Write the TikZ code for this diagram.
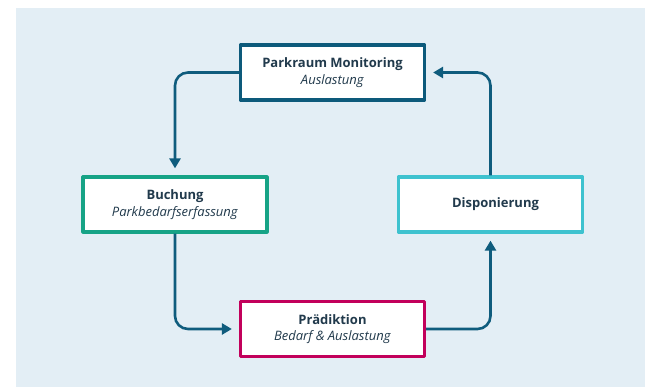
\documentclass[tikz,border=0pt]{standalone}
\usepackage{fontspec}
\setmainfont{Open Sans}
\usetikzlibrary{arrows.meta}

\definecolor{bgblau}{HTML}{E3EEF5}
\definecolor{pfeil}{HTML}{0F5C7D}
\definecolor{textgrau}{HTML}{213A4C}
\definecolor{monblau}{HTML}{0D5A7B}
\definecolor{buchgruen}{HTML}{16A386}
\definecolor{dispcyan}{HTML}{3EC2CF}
\definecolor{praedrot}{HTML}{C2005B}

\begin{document}
\begin{tikzpicture}[x=1pt, y=-1pt, line join=round,
  kasten/.style={draw, fill=white, line width=3.2pt, minimum width=184pt, minimum height=55pt,
    align=center, text=textgrau, font=\fontsize{13}{16.5}\selectfont},
  fluss/.style={draw=pfeil, line width=2.6pt, rounded corners=13pt,
    -{Triangle[length=10pt,width=11pt]}, shorten >=7pt}]

  %% ════ 背景 ════
  \fill[bgblau] (16,8) rectangle (650,387);

  %% ════ 四个框 ════
  \node[kasten, draw=monblau] (monitoring) at (332.5,72.5) {\textbf{Parkraum Monitoring}\\\textit{Auslastung}};
  \node[kasten, draw=buchgruen] (buchung) at (175,204.5) {\textbf{Buchung}\\\textit{Parkbedarfserfassung}};
  \node[kasten, draw=dispcyan] (disponierung) at (490.5,204.5) {\hspace*{10pt}\textbf{Disponierung}};
  \node[kasten, draw=praedrot] (praediktion) at (332.5,329) {\textbf{Prädiktion}\\\textit{Bedarf \& Auslastung}};

  %% ════ 箭头（圆角）════
  \draw[fluss] (monitoring.west) -| (buchung.north);
  \draw[fluss] (buchung.south) |- (praediktion.west);
  \draw[fluss] (praediktion.east) -| (disponierung.south);
  \draw[fluss] (disponierung.north) |- (monitoring.east);

  % 钉死画布
  \pgfresetboundingbox
  \path[use as bounding box] (0,0) rectangle (645,388);
\end{tikzpicture}
\end{document}
